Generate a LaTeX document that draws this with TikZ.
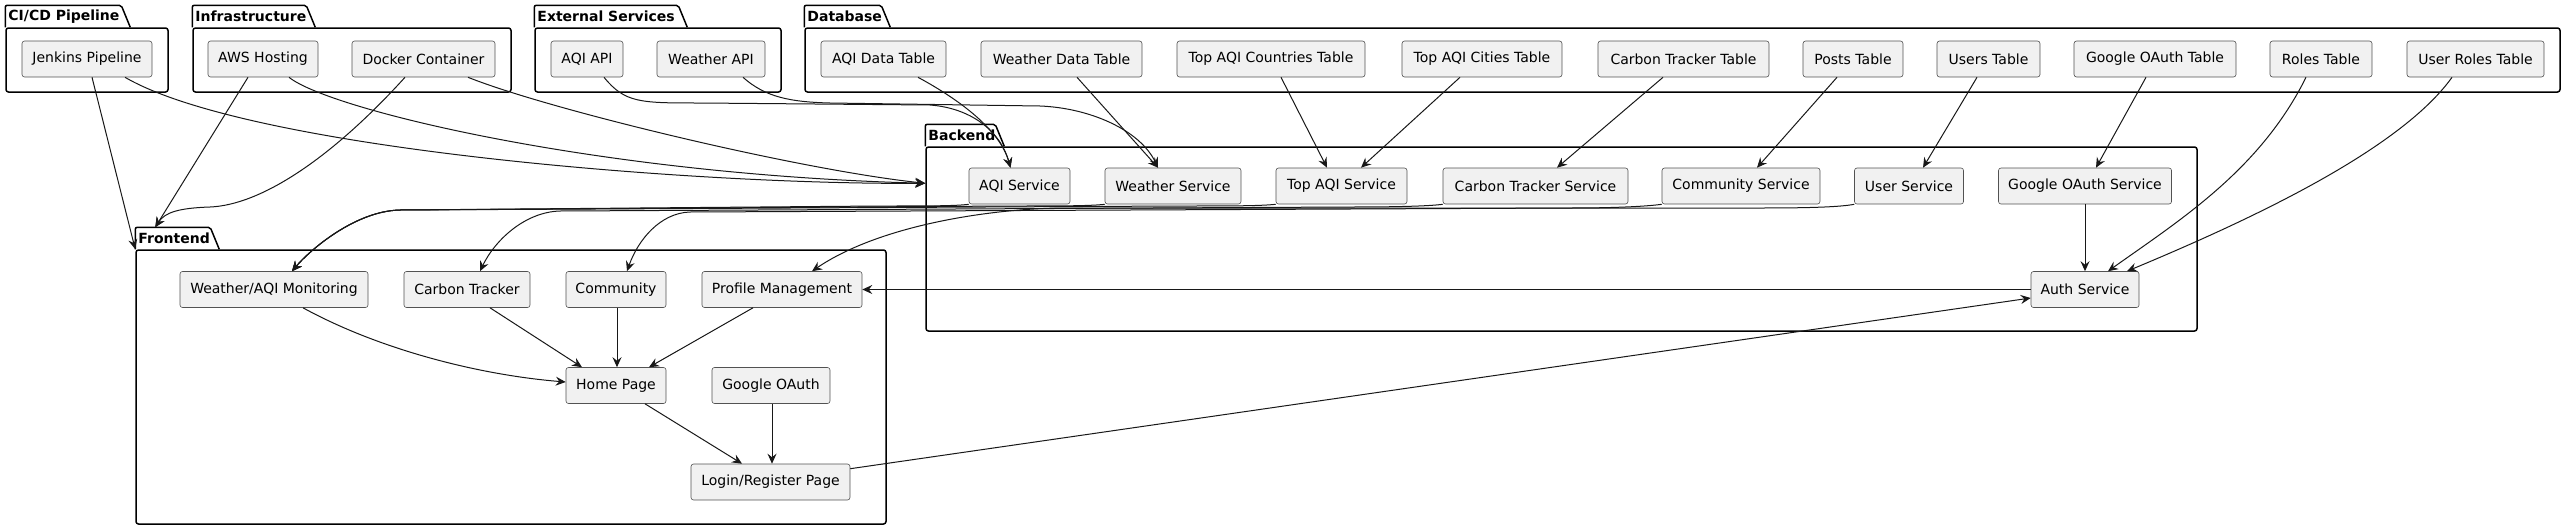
\documentclass[tikz,border=0pt]{standalone}
\usepackage{fontspec}
\setmainfont{DejaVu Sans}
\usetikzlibrary{arrows.meta}
\definecolor{boxfill}{HTML}{F1F1F1}
\definecolor{boxline}{HTML}{181818}
\newcommand*{\compfont}{\fontsize{14}{17}\selectfont}
\newcommand*{\pkgfont}{\fontsize{14}{17}\selectfont\bfseries}
\tikzstyle{comp}=[rectangle, rounded corners=2.5pt, fill=boxfill, draw=boxline!75, line width=0.6pt, minimum height=36, inner sep=0pt, font=\compfont]
\tikzstyle{pkgbox}=[rectangle, rounded corners=2.5pt, draw=black, line width=1.5pt, inner sep=0pt]
\tikzstyle{pkgline}=[draw=black, line width=1.5pt, rounded corners=2pt]
\tikzstyle{pkgtitle}=[font=\pkgfont, inner sep=0pt]
\tikzstyle{link}=[draw=boxline, line width=1pt, -{Stealth[length=10pt,width=9pt,inset=3.5pt]}]
\newcommand{\pkg}[7]{%
	% name, left, top, right, bottom, tab width, title
	\node[pkgbox, minimum width=#4-#2, minimum height=#5-#3] (#1) at ({(#2+#4)/2},{(#3+#5)/2}) {};
	\draw[pkgline] (#1.north west) -- ++(0,-22) -- ++(#6-9,0) -- ++(9,22);
	\node[pkgtitle, anchor=west] at ([shift={(3,-11)}]#1.north west) {#7};
}

\begin{document}
\begin{tikzpicture}[x=1pt,y=-1pt]
	\useasboundingbox (0,0) rectangle (2566,530);
	% packages
	\pkg{cicd}{6}{28}{168}{92}{125}{CI/CD Pipeline}
	\pkg{infra}{193}{28}{511}{92}{123}{Infrastructure}
	\pkg{ext}{535}{28}{781}{92}{153}{External Services}
	\pkg{db}{805}{28}{2560}{92}{86}{Database}
	\pkg{backend}{926}{147}{2197}{331}{79}{Backend}
	\pkg{frontend}{136}{250}{886}{524}{84}{Frontend}
	% top row
	\node[comp, minimum width=130] (jenkins) at (87,59) {Jenkins Pipeline};
	\node[comp, minimum width=110] (aws) at (263,59) {AWS Hosting};
	\node[comp, minimum width=143] (docker) at (423.5,59) {Docker Container};
	\node[comp, minimum width=72] (aqiapi) at (587,59) {AQI API};
	\node[comp, minimum width=108] (weatherapi) at (711,59) {Weather API};
	\node[comp, minimum width=125] (aqitab) at (883.5,59) {AQI Data Table};
	\node[comp, minimum width=161] (weathertab) at (1061.5,59) {Weather Data Table};
	\node[comp, minimum width=188] (countriestab) at (1271,59) {Top AQI Countries Table};
	\node[comp, minimum width=160] (citiestab) at (1482,59) {Top AQI Cities Table};
	\node[comp, minimum width=171] (carbontab) at (1683.5,59) {Carbon Tracker Table};
	\node[comp, minimum width=100] (poststab) at (1853,59) {Posts Table};
	\node[comp, minimum width=103] (userstab) at (1988.5,59) {Users Table};
	\node[comp, minimum width=162] (oauthtab) at (2155,59) {Google OAuth Table};
	\node[comp, minimum width=102] (rolestab) at (2321,59) {Roles Table};
	\node[comp, minimum width=137] (userrolestab) at (2475.5,59) {User Roles Table};
	% backend
	\node[comp, minimum width=101] (aqisvc) at (1019.5,186) {AQI Service};
	\node[comp, minimum width=136] (weathersvc) at (1173,186) {Weather Service};
	\node[comp, minimum width=131] (topsvc) at (1341.5,186) {Top AQI Service};
	\node[comp, minimum width=185] (carbonsvc) at (1535.5,186) {Carbon Tracker Service};
	\node[comp, minimum width=158] (communitysvc) at (1741,186) {Community Service};
	\node[comp, minimum width=109] (usersvc) at (1909,186) {User Service};
	\node[comp, minimum width=173] (oauthsvc) at (2085,186) {Google OAuth Service};
	\node[comp, minimum width=108] (authsvc) at (2085,289.5) {Auth Service};
	% frontend
	\node[comp, minimum width=188] (monitoring) at (274,289.5) {Weather/AQI Monitoring};
	\node[comp, minimum width=126] (carbonui) at (467,289.5) {Carbon Tracker};
	\node[comp, minimum width=100] (communityui) at (616,289.5) {Community};
	\node[comp, minimum width=160] (profile) at (782,289.5) {Profile Management};
	\node[comp, minimum width=100] (home) at (616,385.5) {Home Page};
	\node[comp, minimum width=118] (googleui) at (771,385.5) {Google OAuth};
	\node[comp, minimum width=159] (login) at (770.5,482) {Login/Register Page};
	% pipeline and hosting
	\draw[link] ([xshift=38]jenkins.south) .. controls (250,150) and (700,185) .. ([yshift=-37]backend.north west);
	\draw[link] ([xshift=26]aws.south) .. controls (330,110) and (600,175) .. ([yshift=-37]backend.north west);
	\draw[link] ([xshift=44.5]docker.south) .. controls (550,110) and (800,170) .. ([yshift=-37]backend.north west);
	\draw[link] ([xshift=5]jenkins.south) -- (frontend.north west);
	\draw[link] ([xshift=-15]aws.south) -- ([shift={(20,-22)}]frontend.north west);
	\draw[link] ([xshift=-18.5]docker.south) .. controls (330,160) and (260,205) .. (210,207) .. controls (180,208) and (165,212) .. ([shift={(20,-22)}]frontend.north west);
	% external apis
	\draw[link] ([xshift=17]aqiapi.south) .. controls (625,103) and (640,103) .. (700,103) -- (930,105) .. controls (970,108) and (1000,130) .. ([xshift=-9]aqisvc.north);
	\draw[link] ([xshift=32]weatherapi.south) .. controls (765,97) and (790,102) .. (830,103) -- (1040,106) .. controls (1090,108) and (1140,130) .. ([xshift=-15]weathersvc.north);
	% tables to services
	\draw[link] ([xshift=34.5]aqitab.south) .. controls (960,100) and (1000,130) .. ([xshift=-9]aqisvc.north);
	\draw[link] ([xshift=15.5]weathertab.south) -- ([xshift=-15]weathersvc.north);
	\draw[link] ([xshift=10]countriestab.south) -- ([xshift=-14.5]topsvc.north);
	\draw[link] ([xshift=-22]citiestab.south) -- ([xshift=19.5]topsvc.north);
	\draw[link] ([xshift=-20.5]carbontab.south) -- ([xshift=21.5]carbonsvc.north);
	\draw[link] ([xshift=-16]poststab.south) -- ([xshift=16]communitysvc.north);
	\draw[link] ([xshift=-11.5]userstab.south) -- ([xshift=14]usersvc.north);
	\draw[link] ([xshift=-9]oauthtab.south) -- ([xshift=11]oauthsvc.north);
	\draw[link] ([xshift=-15]rolestab.south) .. controls (2260,170) and (2180,220) .. ([xshift=23]authsvc.north);
	\draw[link] ([xshift=-23.5]userrolestab.south) .. controls (2400,150) and (2250,220) .. ([xshift=42]authsvc.north);
	\draw[link] (oauthsvc.south) -- (authsvc.north);
	% services to pages
	\draw[link] (aqisvc.south west) .. controls (955,206) and (930,206) .. (880,206) -- (400,210) .. controls (355,211) and (310,250) .. ([xshift=18]monitoring.north);
	\draw[link] (weathersvc.south west) .. controls (1090,206) and (1060,206) .. (1010,206) -- (400,210) .. controls (355,211) and (310,250) .. ([xshift=18]monitoring.north);
	\draw[link] (topsvc.south west) .. controls (1260,206) and (1230,206) .. (1180,206) -- (400,210) .. controls (355,211) and (310,250) .. ([xshift=18]monitoring.north);
	\draw[link] (carbonsvc.south west) .. controls (1430,206) and (1400,207) .. (1350,207) -- (560,211) .. controls (525,212) and (495,240) .. ([xshift=13]carbonui.north);
	\draw[link] (communitysvc.south west) .. controls (1650,206) and (1620,208) .. (1570,208) -- (690,212) .. controls (660,213) and (638,240) .. ([xshift=11]communityui.north);
	\draw[link] (usersvc.south west) .. controls (1840,207) and (1810,208) .. (1760,208) -- (1060,208) .. controls (990,209) and (880,225) .. ([xshift=30]profile.north);
	\draw[link] (authsvc.west) -- (profile.east);
	% frontend pages
	\draw[link] ([xshift=29]monitoring.south) .. controls (380,350) and (480,375) .. ([yshift=3.5]home.west);
	\draw[link] ([xshift=23]carbonui.south) -- ([xshift=-34]home.north);
	\draw[link] ([xshift=1]communityui.south) -- ([xshift=1]home.north);
	\draw[link] ([xshift=-29]profile.south) -- ([xshift=33]home.north);
	\draw[link] ([xshift=29]home.south) -- ([xshift=-28.5]login.north);
	\draw[link] ([xshift=1]googleui.south) -- ([xshift=1.5]login.north);
	\draw[link] ([yshift=-5]login.north east) -- ([yshift=-8.5]authsvc.west);
\end{tikzpicture}
\end{document}
